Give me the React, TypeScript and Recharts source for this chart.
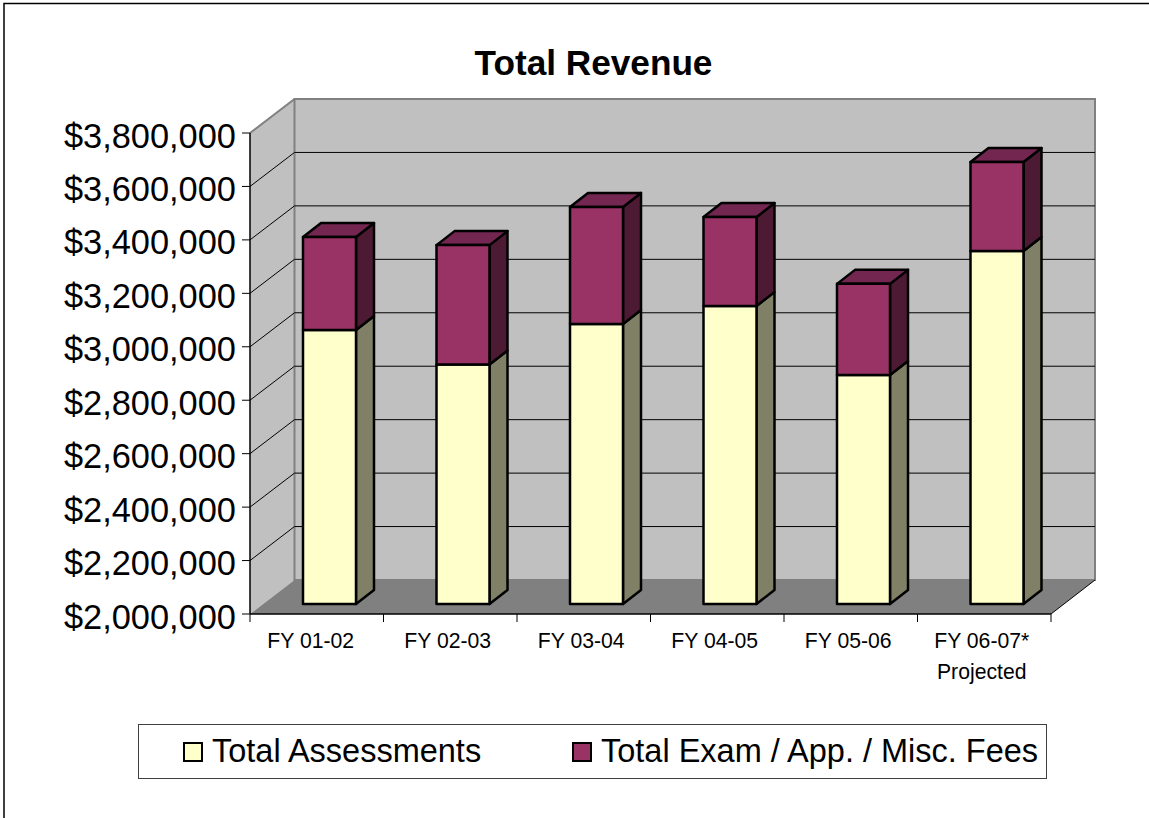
import React from 'react';
import { BarChart, Bar, XAxis, YAxis, Legend, usePlotArea } from 'recharts';

const categories = ['FY 01-02', 'FY 02-03', 'FY 03-04', 'FY 04-05', 'FY 05-06', 'FY 06-07*|Projected'];
const assessments = [3025000, 2896000, 3048000, 3115000, 2857000, 3321000];
const fees = [348000, 447000, 438000, 333000, 341000, 333000];
const yTicks = [2000000, 2200000, 2400000, 2600000, 2800000, 3000000, 3200000, 3400000, 3600000, 3800000];

const chartData = categories.map((name, i) => ({
  name,
  assessments: assessments[i],
  fees: fees[i],
}));

const FONT = '"Liberation Sans", Arial, sans-serif';
const YELLOW = '#FFFFCC';
const PURPLE = '#993366';

// how far the back wall sits behind the axis plane
const WALL_DX = 44.5;
const WALL_DY = 34;
// bars stand a little way into the floor and have their own depth
const BAR_DX = 13;
const BAR_DY = 10;
const DEPTH_X = 18;
const DEPTH_Y = 14;

function Wall() {
  const plot = usePlotArea();
  if (!plot) return null;
  const { x, y, width, height } = plot;
  const bottom = y + height;
  const right = x + width;
  const min = yTicks[0];
  const max = yTicks[yTicks.length - 1];
  const band = width / categories.length;

  return (
    <g>
      <polygon
        points={`${x},${y} ${x + WALL_DX},${y - WALL_DY} ${x + WALL_DX},${bottom - WALL_DY} ${x},${bottom}`}
        fill="#C0C0C0"
      />
      <rect x={x + WALL_DX} y={y - WALL_DY} width={width - 0.5} height={height} fill="#C0C0C0" stroke="#808080" strokeWidth={2} />
      <line x1={x} y1={y} x2={x + WALL_DX} y2={y - WALL_DY} stroke="#808080" strokeWidth={2} />
      {yTicks.slice(1, -1).map((t) => {
        const ty = bottom - ((t - min) / (max - min)) * height;
        return (
          <g key={t}>
            <line x1={x} y1={ty} x2={x + WALL_DX} y2={ty - WALL_DY} stroke="#000" strokeWidth={1} />
            <line x1={x + WALL_DX} y1={ty - WALL_DY} x2={right + WALL_DX - 0.5} y2={ty - WALL_DY} stroke="#000" strokeWidth={1} />
          </g>
        );
      })}
      <polygon
        points={`${x},${bottom} ${x + WALL_DX},${bottom - WALL_DY} ${right + WALL_DX - 0.5},${bottom - WALL_DY} ${right},${bottom}`}
        fill="#808080"
      />
      <line x1={right} y1={bottom} x2={right + WALL_DX - 0.5} y2={bottom - WALL_DY} stroke="#000" strokeWidth={1} />
      {categories.map((_, i) => (
        <line key={i} x1={x + band * i} y1={bottom} x2={x + band * i} y2={bottom + 8} stroke="#000" strokeWidth={1} />
      ))}
      <line x1={right} y1={bottom} x2={right} y2={bottom + 8} stroke="#000" strokeWidth={1} />
    </g>
  );
}

// front face plus side and top, drawn from the rectangle the Bar hands over
function box3d(side: string, top?: string) {
  return (props: any) => {
    const x = props.x + BAR_DX;
    const y = props.y - BAR_DY;
    const w = props.width;
    const h = props.height;
    const line = { stroke: '#000', strokeWidth: 2.5, strokeLinejoin: 'round' as const };
    return (
      <g>
        <polygon
          points={`${x + w},${y} ${x + w + DEPTH_X},${y - DEPTH_Y} ${x + w + DEPTH_X},${y + h - DEPTH_Y} ${x + w},${y + h}`}
          fill={side}
          {...line}
        />
        {top && (
          <polygon
            points={`${x},${y} ${x + DEPTH_X},${y - DEPTH_Y} ${x + w + DEPTH_X},${y - DEPTH_Y} ${x + w},${y}`}
            fill={top}
            {...line}
          />
        )}
        <rect x={x} y={y} width={w} height={h} fill={props.fill} {...line} />
      </g>
    );
  };
}

function CategoryTick({ x, y, payload, index }: any) {
  const lines = String(payload.value).split('|');
  // the first label sits a bit further left in the original
  const tx = x + (index === 0 ? -6 : -2.5);
  return (
    <text x={tx} y={y} textAnchor="middle" fontFamily={FONT} fontSize={21.2} fill="#000">
      {lines.map((l, i) => (
        <tspan key={l} x={tx} dy={i === 0 ? 26 : 31}>
          {l}
        </tspan>
      ))}
    </text>
  );
}

function ValueTick({ x, y, payload }: any) {
  return (
    <text x={x} y={y + 14.5} textAnchor="end" fontFamily={FONT} fontSize={34.4} fill="#000">
      {`$${payload.value.toLocaleString('en-US')}`}
    </text>
  );
}

function LegendBox({ payload }: any) {
  return (
    <div
      style={{
        boxSizing: 'border-box',
        width: 909,
        height: 55,
        border: '1px solid #404040',
        background: '#fff',
        fontFamily: FONT,
        fontSize: 32.5,
        color: '#000',
        position: 'relative',
        lineHeight: '53px',
      }}
    >
      {(payload || []).map((item: any, i: number) => (
        <div key={item.value} style={{ position: 'absolute', left: i === 0 ? 44 : 433, top: 0, whiteSpace: 'nowrap' }}>
          <span
            style={{
              display: 'inline-block',
              boxSizing: 'border-box',
              width: 20,
              height: 20,
              background: item.color,
              border: '2px solid #000',
              marginRight: 9,
              verticalAlign: 0,
            }}
          />
          {item.value}
        </div>
      ))}
    </div>
  );
}

export default function App() {
  return (
    <div style={{ position: 'absolute', left: 0, top: 0, width: 1149, height: 818, overflow: 'hidden', background: '#fff' }}>
      <BarChart
        width={1149}
        height={818}
        data={chartData}
        margin={{ top: 133, right: 98, bottom: 89, left: 50 }}
        barSize={53}
      >
        <rect x={4} y={3.5} width={1300} height={1000} fill="none" stroke="#000" strokeWidth={1.5} />
        <text x={593.5} y={75} textAnchor="middle" fontFamily={FONT} fontSize={35.2} fontWeight="bold" fill="#000">
          Total Revenue
        </text>
        <Wall />
        <XAxis
          dataKey="name"
          height={60}
          interval={0}
          tickLine={false}
          axisLine={{ stroke: '#000', strokeWidth: 1.5 }}
          tick={<CategoryTick />}
        />
        <YAxis
          width={200}
          domain={[2000000, 3800000]}
          allowDataOverflow
          ticks={yTicks}
          interval={0}
          tickSize={8}
          tickMargin={6}
          tickLine={{ stroke: '#000' }}
          axisLine={{ stroke: '#000', strokeWidth: 1.5 }}
          tick={<ValueTick />}
        />
        <Bar
          dataKey="assessments"
          name="Total Assessments"
          stackId="a"
          fill={YELLOW}
          isAnimationActive={false}
          shape={box3d('#808066')}
        />
        <Bar
          dataKey="fees"
          name="Total Exam / App. / Misc. Fees"
          stackId="a"
          fill={PURPLE}
          isAnimationActive={false}
          shape={box3d('#4D1A33', '#732650')}
        />
        <Legend
          content={<LegendBox />}
          wrapperStyle={{ position: 'absolute', left: 138, top: 724, width: 909, bottom: 'auto' }}
        />
      </BarChart>
    </div>
  );
}
